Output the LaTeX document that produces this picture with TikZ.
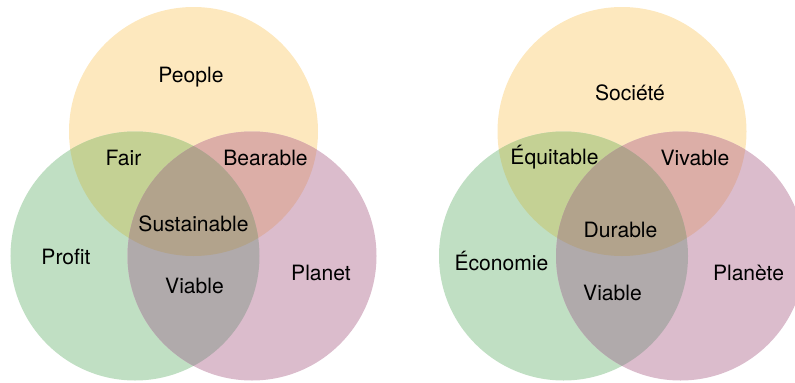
\documentclass[tikz,border=0pt]{standalone}
\usepackage{fontspec}
\setmainfont{TeX Gyre Heros}
\definecolor{vennYellow}{HTML}{FDE8BE}
\definecolor{vennGreen}{HTML}{C0DFC3}
\definecolor{vennPink}{HTML}{DBBCCC}
\definecolor{vennYG}{HTML}{C4D194}
\definecolor{vennYP}{HTML}{DCAEA7}
\definecolor{vennGP}{HTML}{B0AAAB}
\definecolor{vennAll}{HTML}{B2A38C}

% three overlapping circles, every region filled on its own
\newcommand{\vennfills}{%
  \fill[vennYellow] (3.87000,5.01000) circle (2.49000);
  \fill[vennGreen] (2.70000,2.52000) circle (2.49000);
  \fill[vennPink] (5.04000,2.52000) circle (2.49000);
  \begin{scope}
    \clip (3.87000,5.01000) circle (2.49000);
    \fill[vennYG] (2.70000,2.52000) circle (2.49000);
  \end{scope}
  \begin{scope}
    \clip (3.87000,5.01000) circle (2.49000);
    \fill[vennYP] (5.04000,2.52000) circle (2.49000);
  \end{scope}
  \begin{scope}
    \clip (2.70000,2.52000) circle (2.49000);
    \fill[vennGP] (5.04000,2.52000) circle (2.49000);
  \end{scope}
  \begin{scope}
    \clip (3.87000,5.01000) circle (2.49000);
    \clip (2.70000,2.52000) circle (2.49000);
    \fill[vennAll] (5.04000,2.52000) circle (2.49000);
  \end{scope}}

\tikzset{venntext/.style={inner sep=0pt,font=\fontsize{12}{14}\selectfont}}

\begin{document}
\begin{tikzpicture}
  \useasboundingbox (0,0) rectangle (15.90000,7.64000);
  \clip (0,0) rectangle (15.90000,7.64000);
  \vennfills
  \begin{scope}[xshift=8.57cm]
    \vennfills
  \end{scope}
  % English labels
  \node[venntext] (people) at (3.82000,6.09000) {People};
  \node[venntext] (fair) at (2.47000,4.49000) {Fair};
  \node[venntext] (bearable) at (5.31000,4.49000) {Bearable};
  \node[venntext] (sustainable) at (3.87000,3.17000) {Sustainable};
  \node[venntext] (profit) at (1.32000,2.50000) {Profit};
  \node[venntext] (viableA) at (3.89000,1.92000) {Viable};
  \node[venntext] (planet) at (6.42000,2.19000) {Planet};
  % French labels
  \node[venntext] (societe) at (12.60000,5.79000) {Société};
  \node[venntext] (equitable) at (11.09000,4.49000) {Équitable};
  \node[venntext] (vivable) at (13.90000,4.49000) {Vivable};
  \node[venntext] (durable) at (12.41000,3.05000) {Durable};
  \node[venntext] (economie) at (10.03000,2.43000) {Économie};
  \node[venntext] (viableB) at (12.25000,1.79000) {Viable};
  \node[venntext] (planete) at (14.97000,2.19000) {Planète};
\end{tikzpicture}
\end{document}
